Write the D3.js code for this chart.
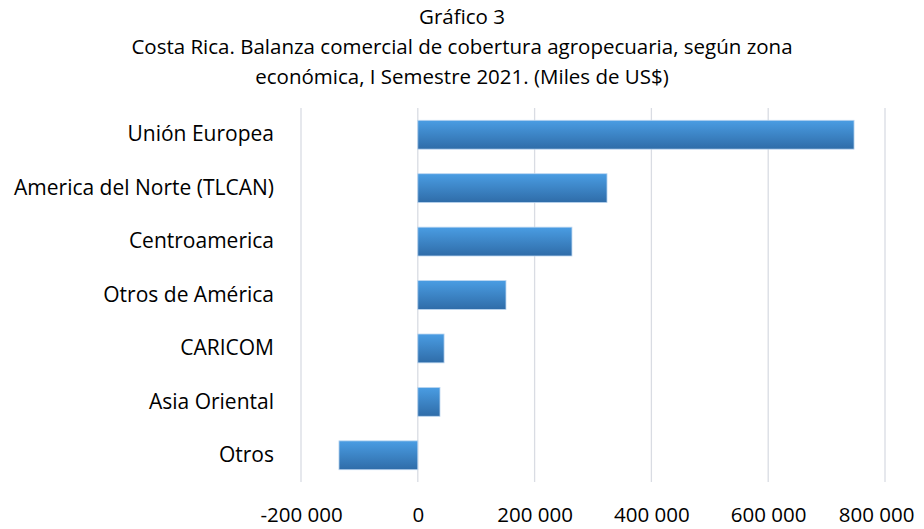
<!DOCTYPE html>
<html lang="es">
<head>
<meta charset="utf-8">
<script src="https://cdnjs.cloudflare.com/ajax/libs/d3/7.8.5/d3.min.js"></script>
<style>
  body { margin: 0; background: #fff; }
  text { font-family: "Open Sans", "Noto Sans", sans-serif; fill: #000; }
</style>
</head>
<body>
<script>
// data
var zonas = ["Unión Europea", "America del Norte (TLCAN)", "Centroamerica",
             "Otros de América", "CARICOM", "Asia Oriental", "Otros"];
var saldos = [747000, 324000, 264000, 151000, 45000, 38000, -135000];
var ticks = [-200000, 0, 200000, 400000, 600000, 800000];
var titulo = ["Gráfico 3",
              "Costa Rica. Balanza comercial de cobertura agropecuaria, según zona",
              "económica, I Semestre 2021. (Miles de US$)"];

var w = 924, h = 529;
var margin = { top: 108, left: 301, right: 39, bottom: 47 };

var svg = d3.select("body").append("svg")
  .attr("width", w)
  .attr("height", h);

// gradient for the bars
var grad = svg.append("defs").append("linearGradient")
  .attr("id", "barra")
  .attr("x1", 0).attr("y1", 0).attr("x2", 0).attr("y2", 1);
grad.append("stop").attr("offset", "0%").attr("stop-color", "#4a9de3");
grad.append("stop").attr("offset", "100%").attr("stop-color", "#2f6ca8");

var xscale = d3.scaleLinear()
  .domain([-200000, 800000])
  .range([margin.left, w - margin.right]);

var yscale = d3.scaleBand()
  .domain(zonas)
  .range([margin.top, h - margin.bottom])
  .paddingInner(0.46)
  .paddingOuter(0.23);

// title
svg.selectAll(".titulo")
  .data(titulo)
  .enter().append("text")
  .attr("class", "titulo")
  .attr("x", 462)
  .attr("y", function(d, i) { return 24 + i * 30; })
  .attr("text-anchor", "middle")
  .style("font-size", "20.5px")
  .text(function(d) { return d; });

// vertical gridlines
svg.append("g")
  .selectAll("line")
  .data(ticks)
  .enter().append("line")
  .attr("x1", function(d) { return xscale(d); })
  .attr("x2", function(d) { return xscale(d); })
  .attr("y1", margin.top)
  .attr("y2", h - margin.bottom)
  .attr("stroke", "#d9dce3")
  .attr("stroke-width", 1.3);

// bars
svg.append("g")
  .selectAll("rect")
  .data(saldos)
  .enter().append("rect")
  .attr("x", function(d) { return xscale(Math.min(0, d)); })
  .attr("y", function(d, i) { return yscale(zonas[i]); })
  .attr("width", function(d) { return Math.abs(xscale(d) - xscale(0)); })
  .attr("height", yscale.bandwidth())
  .attr("fill", "url(#barra)")
  .attr("stroke", "#bcd6f0")
  .attr("stroke-width", 0.8);

// x axis labels (space as thousands separator, plain hyphen for minus)
var xaxis = d3.axisBottom(xscale)
  .tickValues(ticks)
  .tickSize(0)
  .tickPadding(0)
  .tickFormat(function(d) {
    return d3.format(",")(d).replace(/,/g, " ").replace("\u2212", "-");
  });

var xlabels = svg.append("g")
  .attr("transform", "translate(0," + (h - 7) + ")")
  .call(xaxis)
  .call(function(g) { g.select(".domain").remove(); })
  .selectAll("text")
  .attr("dy", "0")
  .style("font-size", "20.5px")
  .style("font-family", "'Open Sans', sans-serif")
  .attr("fill", "#000");

// keep the last label inside the frame, like the original
xlabels.each(function(d) {
  var len = this.getComputedTextLength();
  var right = xscale(d) + len / 2;
  if (right > w - 10) {
    d3.select(this).attr("x", (w - 10) - right);
  }
});

// category labels
var yaxis = d3.axisLeft(yscale).tickSize(0).tickPadding(0);
svg.append("g")
  .attr("transform", "translate(274,0)")
  .call(yaxis)
  .call(function(g) { g.select(".domain").remove(); })
  .selectAll("text")
  .style("font-size", "21px")
  .style("font-family", "'Open Sans', sans-serif")
  .attr("fill", "#000");
</script>
</body>
</html>
